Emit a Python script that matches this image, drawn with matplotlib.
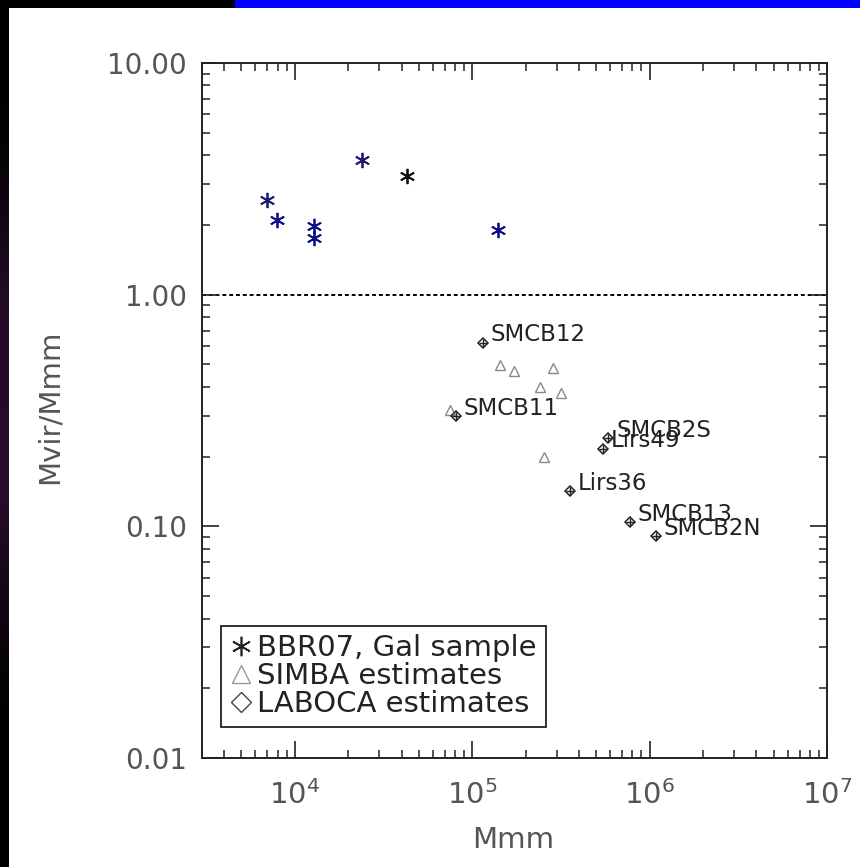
import numpy as np
import matplotlib
matplotlib.use('Agg')
import matplotlib.pyplot as plt
from matplotlib.patches import Rectangle
from matplotlib.lines import Line2D
from matplotlib.ticker import LogLocator, FuncFormatter

# BBR07 galactic sample (asterisks)
gal_mmm = [6940, 7960, 12900, 12900, 23800, 43000, 140000]
gal_ratio = [2.55, 2.10, 1.98, 1.75, 3.81, 3.26, 1.91]
gal_colors = ['#1c1c70', '#10108a', '#10108a', '#10108a', '#1c1c70', '#111111', '#10108a']

# SIMBA estimates (grey triangles)
simba_mmm = [143000, 172000, 284000, 240000, 316000, 74900, 253000]
simba_ratio = [0.497, 0.470, 0.481, 0.401, 0.378, 0.318, 0.200]

# LABOCA estimates (diamonds, labelled)
laboca_names = ['SMCB12', 'SMCB11', 'SMCB2S', 'Lirs49', 'Lirs36', 'SMCB13', 'SMCB2N']
laboca_mmm = [115000, 80900, 583000, 545000, 355000, 773000, 1080000]
laboca_ratio = [0.621, 0.298, 0.240, 0.216, 0.142, 0.104, 0.0904]

legend_labels = ['BBR07, Gal sample', 'SIMBA estimates', 'LABOCA estimates']

W, H = 860, 867
fig = plt.figure(figsize=(W / 100, H / 100), dpi=100)
fig.patch.set_facecolor('black')

# slide background: white panel, blue bar on top, dark purple strip at left
fig.patches.append(Rectangle((9 / W, 0), 1 - 9 / W, 1 - 8 / H, transform=fig.transFigure,
                             facecolor='white', edgecolor='none', zorder=-10))
fig.patches.append(Rectangle((235 / W, 1 - 8 / H), 1 - 235 / W, 8 / H, transform=fig.transFigure,
                             facecolor='#0000ff', edgecolor='none', zorder=-10))
strip = fig.add_axes([0, 0, 9 / W, 1 - 8 / H])
grad = np.array([[0.0], [0.05], [0.25], [0.55], [0.45], [0.6], [0.35], [0.1], [0.0], [0.0]])
strip.imshow(grad, aspect='auto', cmap=matplotlib.colors.LinearSegmentedColormap.from_list(
    'p', ['#000000', '#4a1850']), vmin=0, vmax=1, interpolation='bicubic')
strip.axis('off')

ax = fig.add_axes([202 / W, 1 - 758 / H, 625 / W, 695 / H])
ax.set_facecolor('none')
ax.set_xscale('log')
ax.set_yscale('log')
ax.set_xlim(3e3, 1e7)
ax.set_ylim(0.01, 10)

ax.axhline(1.0, color='black', linestyle=(0, (2, 1.5)), linewidth=1.4, zorder=1)

for x, y, c in zip(gal_mmm, gal_ratio, gal_colors):
    ax.plot(x, y, marker=(6, 2, 0), markersize=11, color=c, markeredgewidth=1.3, linestyle='none')

ax.plot(simba_mmm, simba_ratio, marker='^', markersize=7, linestyle='none',
        markerfacecolor='none', markeredgecolor='#8a8a8a', markeredgewidth=1.0)

ax.plot(laboca_mmm, laboca_ratio, marker='D', markersize=5, linestyle='none',
        markerfacecolor='none', markeredgecolor='#222222', markeredgewidth=1.1)
ax.plot(laboca_mmm, laboca_ratio, marker='+', markersize=6, linestyle='none',
        color='#222222', markeredgewidth=1.0)
for name, x, y in zip(laboca_names, laboca_mmm, laboca_ratio):
    ax.annotate(name, (x, y), xytext=(8, 8), textcoords='offset pixels',
                ha='left', va='center', fontsize=16.5, color='#222222')

for s in ax.spines.values():
    s.set_linewidth(1.4)
    s.set_color('#222222')

ax.xaxis.set_major_locator(LogLocator(base=10, numticks=10))
ax.xaxis.set_minor_locator(LogLocator(base=10, subs=np.arange(2, 10), numticks=20))
ax.yaxis.set_major_locator(LogLocator(base=10, numticks=10))
ax.yaxis.set_minor_locator(LogLocator(base=10, subs=np.arange(2, 10), numticks=20))
ax.yaxis.set_major_formatter(FuncFormatter(lambda v, p: '%.2f' % v))
ax.yaxis.set_minor_formatter(FuncFormatter(lambda v, p: ''))
ax.xaxis.set_minor_formatter(FuncFormatter(lambda v, p: ''))
ax.tick_params(which='both', direction='in', top=True, right=True, color='#222222')
ax.tick_params(which='major', length=12, width=1.2, labelcolor='#555555')
ax.tick_params(which='minor', length=6, width=1.1)
ax.tick_params(axis='y', which='major', pad=11, labelsize=20)
ax.tick_params(axis='x', which='major', pad=16, labelsize=21)

ax.set_xlabel('Mmm', fontsize=21, color='#555555')
ax.set_ylabel('Mvir/Mmm', fontsize=21, color='#555555')
ax.xaxis.set_label_coords(0.498, -0.098)
ax.yaxis.set_label_coords(-0.221, 0.506)

handles = [
    Line2D([], [], marker=(6, 2, 0), markersize=14, color='#222222', markeredgewidth=1.2, linestyle='none'),
    Line2D([], [], marker='^', markersize=13, markerfacecolor='none', markeredgecolor='#999999',
           markeredgewidth=1.0, linestyle='none'),
    Line2D([], [], marker='D', markersize=10, markerfacecolor='none', markeredgecolor='#444444',
           markeredgewidth=1.0, linestyle='none'),
]
leg = ax.legend(handles, legend_labels, loc='lower left', bbox_to_anchor=(19 / 625, 31 / 695),
                borderaxespad=0, fontsize=21, handlelength=0.8, handletextpad=0.15,
                labelspacing=0.0, borderpad=0.3, fancybox=False, framealpha=1,
                edgecolor='#222222')
leg.get_frame().set_linewidth(1.3)
for t in leg.get_texts():
    t.set_color('#222222')

fig.savefig('out.png', dpi=100, facecolor=fig.get_facecolor())
